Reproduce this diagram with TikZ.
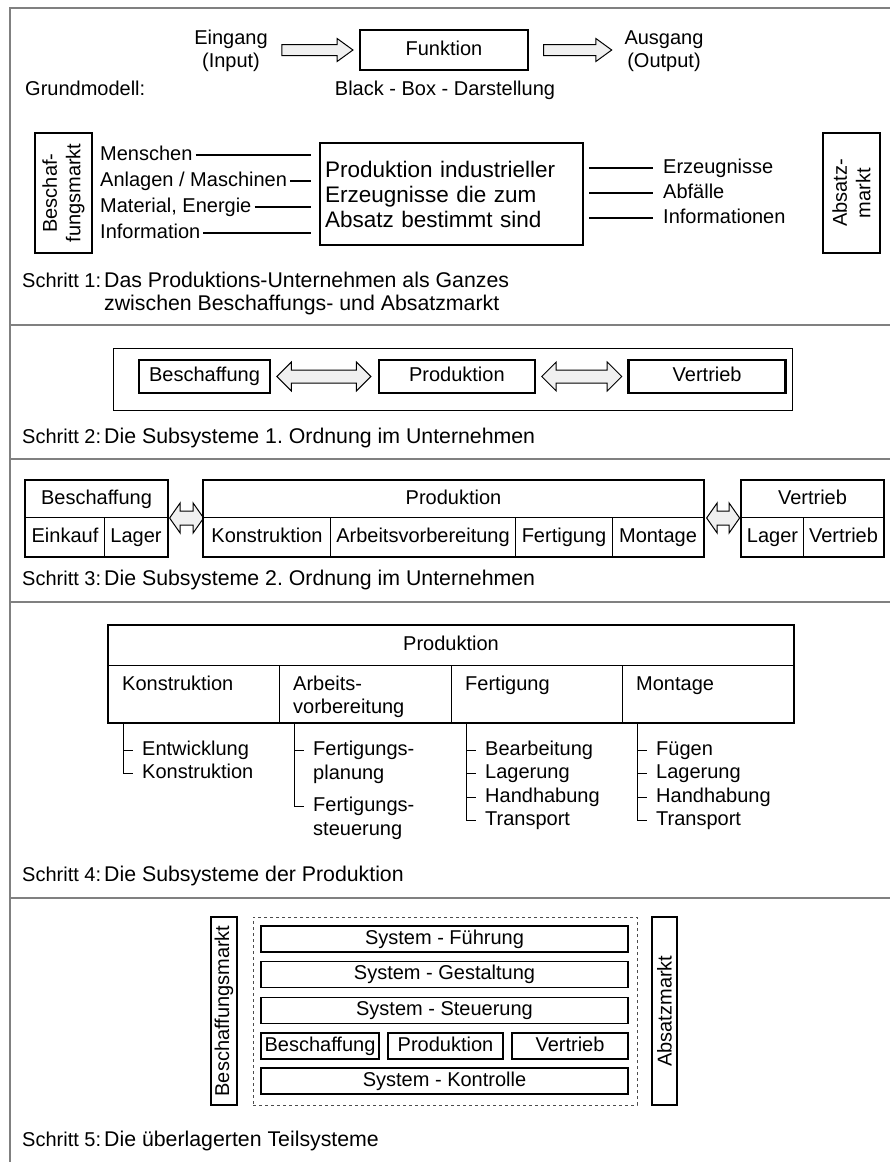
\documentclass[tikz,border=0pt]{standalone}
\usepackage{fontspec}
\setmainfont{Liberation Sans}
\usetikzlibrary{positioning,shapes.arrows}
\frenchspacing

\begin{document}
\begin{tikzpicture}[
        x=1pt, y=-1pt,
        every node/.style={font=\fontsize{20}{23.5}\selectfont},
        onerow/.style={text height=14.5pt, text depth=4.5pt},
        lbl/.style={anchor=west, inner sep=3pt},
        schritt/.style={lbl, onerow},
        desc/.style={lbl, align=left, font=\fontsize{21.3}{23.5}\selectfont},
        item/.style={onerow, anchor=west, inner xsep=9pt, inner ysep=2pt},
        coltxt/.style={align=left, inner sep=3pt},
        box/.style={rectangle, draw, line width=2.4pt, inner sep=0pt},
        cell/.style={onerow, rectangle, draw, line width=1pt, inner sep=0pt, anchor=north west},
        mbox/.style={rectangle, draw, line width=1.2pt, rotate=90, align=center, inner sep=0pt},
        rowbox/.style={onerow, rectangle, draw, line width=1.5pt, inner sep=0pt, minimum height=26pt},
        sarrow/.style={single arrow, draw, fill=gray!12, line width=1pt, inner sep=5pt,
            single arrow head extend=6pt, single arrow tip angle=72},
        darrow/.style={double arrow, draw, fill=gray!12, line width=1pt, inner xsep=0pt, inner ysep=6pt,
            double arrow head extend=8pt},
        flatarrow/.style={darrow, inner ysep=6.5pt, double arrow tip angle=110, minimum height=34pt, anchor=west},
        sepline/.style={draw=gray, line width=1.2pt}
    ]
        \useasboundingbox (0,0) rectangle (890,1162);

        % Rahmen
        \draw[sepline] (890,8) -- (10,8) -- (10,1162);
        \draw[sepline] (10,325) -- (890,325);
        \draw[sepline] (10,459) -- (890,459);
        \draw[sepline] (10,602) -- (890,602);
        \draw[sepline] (10,898) -- (890,898);

        % Grundmodell
        \node[box, onerow, minimum width=168pt, minimum height=40pt] (funk) at (444,50) {Funktion};
        \node[sarrow, minimum height=71pt, left=5pt of funk] (einpf) {};
        \node[sarrow, minimum height=68pt, right=14pt of funk] (auspf) {};
        \node[align=center] (ein) at (231,51) {Eingang\\(Input)};
        \node[align=center] (aus) at (664,51) {Ausgang\\(Output)};
        \node[lbl, onerow] (grund) at (22,90) {Grundmodell:};
        \node[onerow] (bbd) at (445,90) {Black - Box - Darstellung};

        % Schritt 1
        \node[mbox, minimum width=120pt, minimum height=57pt] (bmarkt) at (63.5,193) {Beschaf-\\fungsmarkt};
        \node[mbox, minimum width=120pt, minimum height=57pt] (amarkt) at (851.5,193) {Absatz-\\markt};
        \node[box, minimum height=102pt, inner xsep=5pt, text width=253pt, align=left,
            font=\fontsize{22.5}{25}\selectfont] (indu) at (451.5,194)
            {Produktion industrieller\\\makebox[233pt][s]{Erzeugnisse die zum}\\Absatz bestimmt sind};
        \coordinate (inend) at ([xshift=-8pt]indu.west);
        \coordinate (outbeg) at ([xshift=5pt]indu.east);

        \node[lbl, onerow] (mensch) at (97,155) {Menschen};
        \node[lbl, onerow] (anlag) at (97,181) {Anlagen / Maschinen};
        \node[lbl, onerow] (mater) at (97,207) {Material, Energie};
        \node[lbl, onerow] (info) at (97,233) {Information};
        \draw[line width=1.2pt] (mensch.east) -- (mensch.east -| inend);
        \draw[line width=1.2pt] (anlag.east) -- (anlag.east -| inend);
        \draw[line width=1.2pt] (mater.east) -- (mater.east -| inend);
        \draw[line width=1.2pt] (info.east) -- (info.east -| inend);

        \node[lbl, onerow] (erzeug) at (660,168) {Erzeugnisse};
        \node[lbl, onerow] (abfall) at (660,193) {Abfälle};
        \node[lbl, onerow] (infos) at (660,218) {Informationen};
        \draw[line width=1.2pt] (outbeg |- erzeug.west) -- ([xshift=-7pt]erzeug.west);
        \draw[line width=1.2pt] (outbeg |- abfall.west) -- ([xshift=-7pt]abfall.west);
        \draw[line width=1.2pt] (outbeg |- infos.west) -- ([xshift=-7pt]infos.west);

        \node[schritt] (s1) at (19,282) {Schritt 1:};
        \node[desc] (s1t) at (101,293.5) {Das Produktions-Unternehmen als Ganzes\\zwischen Beschaffungs- und Absatzmarkt};

        % Schritt 2
        \node[draw, line width=1pt, minimum width=679pt, minimum height=62pt] (ordn1) at (452.5,379) {};
        \node[box, onerow, minimum width=131pt, minimum height=33pt] (besch2) at (204.5,376.5) {Beschaffung};
        \node[darrow, minimum height=94pt, right=5pt of besch2] (pf21) {};
        \node[box, onerow, minimum width=156pt, minimum height=33pt, right=6pt of pf21] (prod2) {Produktion};
        \node[darrow, minimum height=80pt, right=5pt of prod2] (pf22) {};
        \node[box, onerow, minimum width=157pt, minimum height=33pt, right=5pt of pf22] (vert2) {Vertrieb};

        \node[schritt] (s2) at (19,438) {Schritt 2:};
        \node[desc, onerow] (s2t) at (101,438) {Die Subsysteme 1. Ordnung im Unternehmen};

        % Schritt 3
        \node[cell, minimum width=142pt, minimum height=37pt] (besch3) at (25,480) {Beschaffung};
        \node[cell, minimum width=79pt, minimum height=39pt] (eink3) at (25,517) {Einkauf};
        \node[cell, minimum width=63pt, minimum height=39pt] (lag3) at (104,517) {Lager};
        \draw[line width=2.4pt] (besch3.north west) rectangle (lag3.south east);
        \node[flatarrow] (pf31) at ([xshift=1pt]besch3.south east) {};

        \node[cell, minimum width=500pt, minimum height=37pt] (prod3) at (203,480) {Produktion};
        \node[cell, minimum width=127pt, minimum height=39pt] (kons3) at (203,517) {Konstruktion};
        \node[cell, minimum width=185pt, minimum height=39pt] (arbv3) at (330,517) {Arbeitsvorbereitung};
        \node[cell, minimum width=97pt, minimum height=39pt] (fert3) at (515,517) {Fertigung};
        \node[cell, minimum width=91pt, minimum height=39pt] (mont3) at (612,517) {Montage};
        \draw[line width=2.4pt] (prod3.north west) rectangle (mont3.south east);
        \node[flatarrow, minimum height=33pt] (pf32) at ([xshift=2pt]prod3.south east) {};

        \node[cell, minimum width=142pt, minimum height=37pt] (vert3) at (741,480) {Vertrieb};
        \node[cell, minimum width=62pt, minimum height=39pt] (lag3b) at (741,517) {Lager};
        \node[cell, minimum width=80pt, minimum height=39pt] (vtb3) at (803,517) {Vertrieb};
        \draw[line width=2.4pt] (vert3.north west) rectangle (vtb3.south east);

        \node[schritt] (s3) at (19,580) {Schritt 3:};
        \node[desc, onerow] (s3t) at (101,580) {Die Subsysteme 2. Ordnung im Unternehmen};

        % Schritt 4
        \node[cell, minimum width=685pt, minimum height=40pt] (prod4) at (108,625) {Produktion};
        \node[cell, minimum width=171pt, minimum height=57pt] (kons4) at (108,665) {};
        \node[cell, minimum width=172pt, minimum height=57pt] (arbv4) at (279,665) {};
        \node[cell, minimum width=171pt, minimum height=57pt] (fert4) at (451,665) {};
        \node[cell, minimum width=171pt, minimum height=57pt] (mont4) at (622,665) {};
        \draw[line width=2.4pt] (prod4.north west) rectangle (mont4.south east);
        \node[coltxt, onerow, below right=7.5pt and 11pt of kons4.north west] (kons4t) {Konstruktion};
        \node[coltxt, below right=7.5pt and 11pt of arbv4.north west] (arbv4t) {Arbeits-\\vorbereitung};
        \node[coltxt, onerow, below right=7.5pt and 11pt of fert4.north west] (fert4t) {Fertigung};
        \node[coltxt, onerow, below right=7.5pt and 11pt of mont4.north west] (mont4t) {Montage};

        % Konstruktion
        \coordinate (kb) at ([xshift=15pt]kons4.south west);
        \node[item] (entw) at (133,750) {Entwicklung};
        \node[item] (konst) at (133,773.5) {Konstruktion};
        \draw (kb) |- (konst.west);
        \draw (kb |- entw.west) -- (entw.west);

        % Arbeitsvorbereitung
        \coordinate (ab) at ([xshift=15pt]arbv4.south west);
        \node[anchor=north west, align=left, inner xsep=9pt, inner ysep=2pt] (fplan) at (304,739) {Fertigungs-\\planung};
        \node[anchor=north west, align=left, inner xsep=9pt, inner ysep=2pt] (fsteu) at (304,795) {Fertigungs-\\steuerung};
        \coordinate (fp1) at ([yshift=-11pt]fplan.north west);
        \coordinate (fs1) at ([yshift=-11pt]fsteu.north west);
        \draw (ab) |- (fs1);
        \draw (ab |- fp1) -- (fp1);

        % Fertigung
        \coordinate (fb) at ([xshift=15pt]fert4.south west);
        \node[item] (bearb) at (476,750) {Bearbeitung};
        \node[item] (lagf) at (476,773.5) {Lagerung};
        \node[item] (handf) at (476,797) {Handhabung};
        \node[item] (transf) at (476,820.5) {Transport};
        \draw (fb) |- (transf.west);
        \draw (fb |- bearb.west) -- (bearb.west);
        \draw (fb |- lagf.west) -- (lagf.west);
        \draw (fb |- handf.west) -- (handf.west);

        % Montage
        \coordinate (mb) at ([xshift=15pt]mont4.south west);
        \node[item] (fueg) at (647,750) {Fügen};
        \node[item] (lagm) at (647,773.5) {Lagerung};
        \node[item] (handm) at (647,797) {Handhabung};
        \node[item] (transm) at (647,820.5) {Transport};
        \draw (mb) |- (transm.west);
        \draw (mb |- fueg.west) -- (fueg.west);
        \draw (mb |- lagm.west) -- (lagm.west);
        \draw (mb |- handm.west) -- (handm.west);

        \node[schritt] (s4) at (19,876) {Schritt 4:};
        \node[desc, onerow] (s4t) at (101,876) {Die Subsysteme der Produktion};

        % Schritt 5
        \node[mbox, line width=2pt, minimum width=188pt, minimum height=26pt] (bmarkt5) at (224,1011) {Beschaffungsmarkt};
        \node[rectangle, draw=gray!60!black, dashed, line width=0.9pt, minimum width=384pt, minimum height=188pt] (teilsys) at (445,1011) {};
        \node[mbox, line width=2pt, minimum width=188pt, minimum height=25pt] (amarkt5) at (664.5,1011) {Absatzmarkt};
        \node[rowbox, minimum width=367pt] (fuehr) at (444.5,939) {System - Führung};
        \node[rowbox, minimum width=367pt] (gestal) at (444.5,974.5) {System - Gestaltung};
        \node[rowbox, minimum width=367pt] (steuer) at (444.5,1010.5) {System - Steuerung};
        \node[rowbox, minimum width=118pt] (besch5) at (320,1046) {Beschaffung};
        \node[rowbox, minimum width=115pt] (prod5) at (445.5,1046) {Produktion};
        \node[rowbox, minimum width=116pt] (vert5) at (570,1046) {Vertrieb};
        \node[rowbox, minimum width=367pt] (kontr) at (444.5,1081) {System - Kontrolle};

        \node[schritt] (s5) at (19,1141) {Schritt 5:};
        \node[desc, onerow] (s5t) at (101,1141) {Die überlagerten Teilsysteme};
    \end{tikzpicture}
\end{document}
